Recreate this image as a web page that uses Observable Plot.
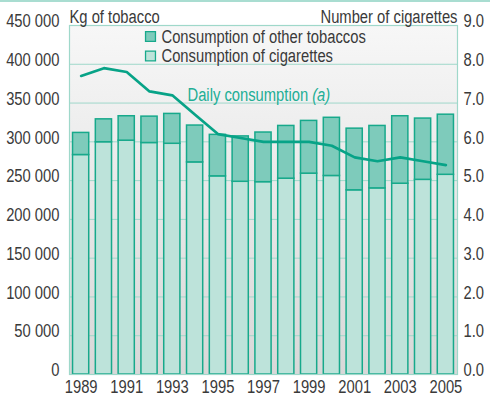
<!DOCTYPE html>
<html>
<head>
<meta charset="utf-8">
<script src="https://cdn.jsdelivr.net/npm/d3@7"></script>
<script src="https://cdn.jsdelivr.net/npm/@observablehq/plot@0.6"></script>
<style>
  body { margin: 0; background: #ffffff; }
  #chart { position: relative; width: 490px; height: 397px; overflow: hidden; }
  #topline { position: absolute; left: 0; top: 0; width: 490px; height: 2px; background: #a9ddd1; }
</style>
</head>
<body>
<div id="chart"><div id="topline"></div></div>
<script>
// Annual consumption of tobacco (kg), split into cigarettes and other tobaccos
const years = [1989, 1990, 1991, 1992, 1993, 1994, 1995, 1996, 1997, 1998, 1999, 2000, 2001, 2002, 2003, 2004, 2005];
const cigarettes = [283000, 299500, 301500, 298500, 297500, 273500, 255500, 248500, 248000, 252500, 259000, 256000, 237500, 240000, 246000, 251000, 257500];
const otherTobaccos = [28500, 29500, 31500, 34000, 38500, 47500, 53500, 58500, 64000, 68000, 68000, 75000, 79500, 80500, 87000, 79000, 77500];
// Daily consumption: number of cigarettes (right axis)
const dailyCigarettes = [7.7, 7.9, 7.8, 7.3, 7.2, 6.7, 6.2, 6.1, 6.0, 6.0, 6.0, 5.9, 5.6, 5.5, 5.6, 5.5, 5.4];

const seriesNames = ["Consumption of cigarettes", "Consumption of other tobaccos"];
const seriesFills = ["#bde3da", "#7ecbbb"];

const kgTicks = d3.range(0, 450001, 50000);
const yearLabels = years.filter(y => y % 2 === 1);
const kgPerCigarette = 50000; // 9.0 cigarettes on the right axis lines up with 450 000 kg

const teal = "#17a98b";
const textColor = "#3a3a3a";
const noteColor = "#22ae95";

const bars = [];
years.forEach((year, i) => {
  bars.push({year, series: seriesNames[0], value: cigarettes[i]});
  bars.push({year, series: seriesNames[1], value: otherTobaccos[i]});
});
const daily = years.map((year, i) => ({year, value: dailyCigarettes[i]}));

const fmtKg = d => d3.format(",")(d).replace(/,/g, " ");

const background = () => {
  const defs = d3.create("svg:defs");
  const g = defs.append("linearGradient")
    .attr("id", "plotBg").attr("x1", 0).attr("y1", 0).attr("x2", 0).attr("y2", 1);
  g.append("stop").attr("offset", "0%").attr("stop-color", "#f7f7f7");
  g.append("stop").attr("offset", "100%").attr("stop-color", "#d8d8d8");
  return defs.node();
};

// one legend row: a framed swatch and its label
const legendRow = (name, dy) => [
  Plot.dot([name], {frameAnchor: "top-left", dx: 81, dy, symbol: "square", r: 5.6,
    fill: d => d, stroke: teal, strokeWidth: 1.3}),
  Plot.text([name], {frameAnchor: "top-left", textAnchor: "start", lineAnchor: "bottom",
    dx: 92, dy: dy + 6, fill: textColor, fontSize: 18})
];

const chart = Plot.plot({
  width: 490,
  height: 397,
  marginLeft: 69,
  marginRight: 33,
  marginTop: 25,
  marginBottom: 23,
  style: {
    fontFamily: "'Liberation Sans', Arial, sans-serif",
    fontSize: "18px",
    color: textColor,
    background: "transparent"
  },
  x: {type: "band", domain: years, paddingInner: 0.29, paddingOuter: 0.155, round: false},
  y: {domain: [0, 450000]},
  color: {domain: seriesNames, range: seriesFills},
  marks: [
    background,
    Plot.frame({fill: "url(#plotBg)", stroke: "none"}),
    Plot.gridY({ticks: kgTicks, stroke: "#9fd8ca", strokeOpacity: 1, strokeWidth: 1}),
    Plot.barY(bars, {x: "year", y: "value", fill: "series", stroke: teal, strokeWidth: 1.5}),
    Plot.lineY(daily, {x: "year", y: d => d.value * kgPerCigarette, stroke: "#07a387", strokeWidth: 2.7, strokeLinejoin: "round"}),
    Plot.frame({stroke: "#9fd8ca", strokeWidth: 1.2}),
    ...legendRow(seriesNames[1], 11),
    ...legendRow(seriesNames[0], 30.5),
    Plot.axisY({anchor: "left", ticks: kgTicks, tickFormat: fmtKg, tickSize: 0, tickPadding: 10, dy: -4, label: null, fontSize: 18}),
    Plot.axisY({anchor: "right", ticks: kgTicks, tickFormat: d => (d / kgPerCigarette).toFixed(1), tickSize: 0, tickPadding: 6, dy: -4, label: null, fontSize: 18}),
    Plot.axisX({ticks: yearLabels, tickFormat: String, tickSize: 0, tickPadding: 6, label: null, fontSize: 18}),
    Plot.text(["Kg of tobacco"], {frameAnchor: "top-left", textAnchor: "start", lineAnchor: "bottom", dy: -3, fill: textColor, fontSize: 18}),
    Plot.text(["Number of cigarettes"], {frameAnchor: "top-right", textAnchor: "end", lineAnchor: "bottom", dy: -3, fill: textColor, fontSize: 18}),
    Plot.text(["Daily consumption "], {frameAnchor: "top-left", textAnchor: "start", lineAnchor: "bottom", dx: 118, dy: 75.5, fill: noteColor, fontSize: 18})
  ]
});

document.getElementById("chart").appendChild(chart);

// the footnote marker of the line label is set in italics
d3.select(chart).selectAll("text")
  .filter(function() { return this.textContent === "Daily consumption "; })
  .append("tspan").attr("font-style", "italic").text("(a)");

// narrow the lettering, as in a condensed typeface
chart.querySelectorAll("text").forEach(t => {
  const len = t.getComputedTextLength();
  if (len > 0) {
    t.setAttribute("textLength", (len * 0.82).toFixed(2));
    t.setAttribute("lengthAdjust", "spacingAndGlyphs");
  }
});
</script>
</body>
</html>
